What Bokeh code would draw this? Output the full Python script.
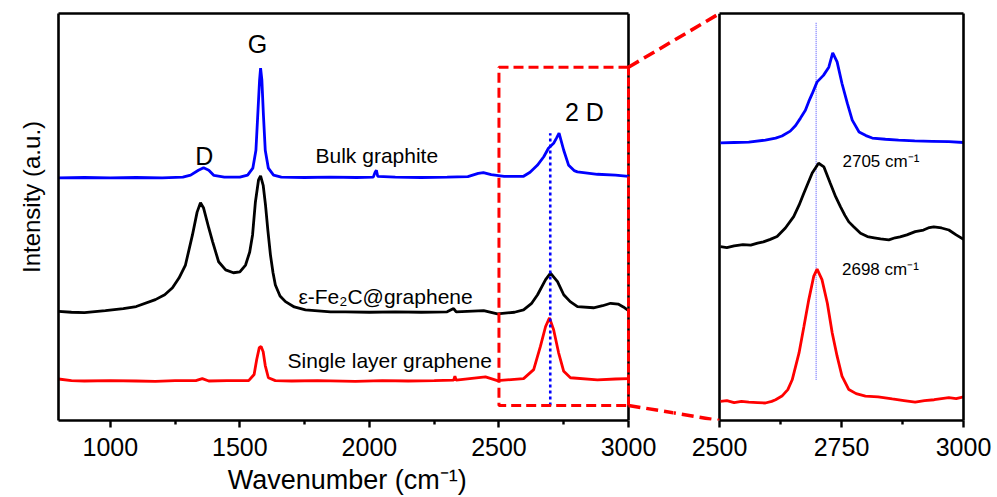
from bokeh.plotting import figure
from bokeh.layouts import row
from bokeh.models import LinearAxis, FixedTicker, Range1d
from bokeh.core.properties import value
from bokeh.embed import file_html
from bokeh.resources import INLINE

# ---------------- Raman spectra, full range (cm^-1 vs. stacked intensity, a.u.) ----------------
bulk_wn = [800, 900, 1000, 1100, 1200, 1280, 1310, 1340, 1360, 1380, 1400, 1440, 1500, 1530,
           1550, 1562, 1570, 1576, 1580, 1585, 1591, 1598, 1610, 1630, 1660, 1750, 1850, 1950,
           2015, 2022, 2027, 2032, 2100, 2200, 2300, 2380, 2420, 2440, 2470, 2520, 2595, 2620,
           2648, 2673, 2691, 2711, 2722, 2732, 2750, 2769, 2790, 2803, 2880, 2950, 3000]
bulk_int = [59.6, 59.7, 59.6, 59.7, 59.6, 59.8, 60.3, 61.5, 62.1, 61.5, 60.2, 59.8, 59.8, 60.3,
            62.0, 66.4, 76.2, 83.6, 86.6, 83.6, 75.0, 66.4, 62.0, 60.3, 59.8, 59.7, 59.8, 59.7,
            59.8, 61.0, 61.5, 60.0, 59.8, 59.7, 59.8, 59.9, 60.7, 60.9, 60.4, 60.0, 60.0, 61.0,
            62.7, 64.8, 66.9, 68.1, 69.4, 70.6, 66.4, 62.7, 61.4, 61.1, 60.5, 60.3, 60.0]

fe2c_wn = [800, 850, 900, 981, 1050, 1100, 1174, 1210, 1240, 1265, 1290, 1317, 1335, 1348,
           1360, 1380, 1395, 1418, 1445, 1475, 1500, 1522, 1538, 1549, 1560, 1572, 1580, 1590,
           1599, 1608, 1618, 1628, 1637, 1655, 1676, 1710, 1753, 1850, 1908, 2000, 2100, 2200,
           2300, 2325, 2335, 2441, 2494, 2560, 2595, 2625, 2649, 2680, 2699, 2726, 2750, 2775,
           2803, 2865, 2900, 2931, 2960, 2980, 3000]
fe2c_int = [26.8, 26.6, 26.5, 27.0, 27.5, 28.0, 29.7, 30.9, 32.6, 35.0, 38.2, 45.6, 51.2, 53.5,
            52.2, 47.3, 43.9, 39.0, 37.0, 36.3, 36.5, 38.2, 41.4, 45.6, 53.7, 59.1, 60.1, 57.8,
            52.9, 46.8, 40.7, 36.3, 33.3, 30.6, 29.2, 27.9, 27.2, 26.7, 26.7, 26.6, 26.7, 26.6,
            26.7, 27.5, 26.7, 27.0, 26.2, 26.6, 27.2, 28.7, 30.9, 34.6, 36.2, 34.1, 30.9, 29.2,
            28.0, 27.7, 28.2, 28.8, 28.6, 27.9, 27.0]

slg_wn = [800, 850, 900, 1000, 1100, 1174, 1250, 1330, 1355, 1380, 1450, 1534, 1555, 1565,
          1575, 1582, 1590, 1598, 1610, 1637, 1700, 1800, 1946, 2050, 2150, 2250, 2325, 2330,
          2335, 2448, 2494, 2595, 2634, 2660, 2680, 2695, 2711, 2730, 2750, 2776, 2880, 2950, 3000]
slg_int = [10.2, 9.8, 9.7, 9.8, 9.7, 9.6, 9.8, 9.8, 10.3, 9.7, 9.8, 9.8, 11.3, 15.0,
           17.9, 18.2, 16.9, 13.5, 10.5, 9.8, 9.7, 9.8, 9.6, 9.8, 9.7, 9.8, 9.9, 10.9,
           9.9, 10.7, 9.8, 10.3, 12.5, 18.2, 23.1, 25.2, 22.3, 16.7, 12.1, 10.5, 10.0, 10.2, 10.3]

# ---------------- 2D band, 2500-3000 cm^-1 ----------------
bulk2d_wn = [2502, 2530, 2560, 2594, 2615, 2628, 2645, 2656, 2666, 2676, 2683, 2690, 2700, 2713,
             2724, 2732, 2741, 2751, 2762, 2772, 2786, 2800, 2813, 2840, 2867, 2900, 2936, 2970,
             3000]
bulk2d_int = [68.2, 68.3, 68.4, 68.9, 69.4, 69.9, 71.1, 72.5, 74.3, 76.2, 78.4, 80.3, 83.2, 84.8,
              86.8, 90.3, 88.1, 82.8, 77.9, 73.8, 70.9, 70.0, 69.4, 69.1, 68.9, 68.7, 68.6, 68.5,
              68.3]

fe2c2d_wn = [2502, 2515, 2530, 2548, 2564, 2578, 2590, 2604, 2618, 2635, 2652, 2663, 2673, 2690,
             2703, 2714, 2727, 2738, 2748, 2757, 2765, 2775, 2789, 2803, 2817, 2830, 2847, 2860,
             2870, 2884, 2901, 2918, 2930, 2939, 2955, 2970, 2985, 3000]
fe2c2d_int = [42.7, 42.5, 42.9, 43.2, 43.1, 43.6, 43.9, 44.5, 45.2, 47.3, 50.1, 52.9, 55.9, 60.8,
              63.2, 62.3, 58.3, 55.0, 52.5, 50.4, 48.8, 47.6, 46.0, 45.2, 44.9, 44.6, 44.4, 44.9,
              45.1, 45.6, 46.4, 46.8, 47.4, 47.6, 47.3, 46.8, 45.6, 44.5]

slg2d_wn = [2502, 2515, 2530, 2545, 2560, 2578, 2594, 2607, 2615, 2628, 2640, 2649, 2663, 2673,
            2683, 2693, 2700, 2710, 2721, 2731, 2741, 2751, 2765, 2780, 2799, 2825, 2854, 2878,
            2901, 2920, 2940, 2955, 2970, 2985, 3000]
slg2d_int = [4.7, 4.9, 4.4, 4.7, 4.5, 4.4, 4.3, 4.7, 5.1, 6.0, 7.6, 10.0, 16.6, 23.1,
             29.7, 35.4, 37.2, 34.6, 28.8, 21.5, 15.8, 10.9, 7.6, 6.6, 6.0, 5.8, 5.3, 4.9,
             4.5, 4.9, 5.1, 5.4, 5.6, 5.4, 5.8]

# 2D peak positions quoted in the inset
peak_slg = 2698
peak_fe2c = 2705

# axis ticks
main_ticks = [1000, 1500, 2000, 2500, 3000]
main_minor = [1250, 1750, 2250, 2750]
zoom_ticks = [2500, 2750, 3000]
zoom_minor = [2625, 2875]

# zoom window drawn on the overview (wavenumber span and intensity span)
zoom_x = [2500, 3000]
zoom_y = [3.7, 86.8]

# ---------------- layout (pixels) ----------------
TOTAL_W, FIG_H = 997, 497
TOP, BOTTOM = 13, 76
LEFT_BORDER = 58
SPLIT = 673            # where the overview canvas ends and the inset canvas begins
MAIN_RIGHT_PX = 628    # pixel of 3000 cm^-1 on the overview
ZOOM_LEFT_PX = 719     # pixel of 2500 cm^-1 on the inset
ZOOM_RIGHT_BORDER = 34

FONT = value("Liberation Sans")
BLUE, RED, BLACK = "#0000FF", "#FF0000", "#000000"
LW = 2.8
NBSP = "\u00a0"

main_scale = (MAIN_RIGHT_PX - LEFT_BORDER) / (3000 - 800)
zoom_scale = (TOTAL_W - ZOOM_RIGHT_BORDER - ZOOM_LEFT_PX) / (3000 - 2500)
gap_px = ZOOM_LEFT_PX - MAIN_RIGHT_PX


def style_axis(ax, ticks=(), minor=(), labels=True):
    ax.ticker = FixedTicker(ticks=list(ticks), minor_ticks=list(minor))
    ax.axis_line_width = 2.6
    ax.axis_line_color = BLACK
    ax.major_tick_line_width = 2.4
    ax.minor_tick_line_width = 2.4
    ax.major_tick_in = 0
    ax.minor_tick_in = 0
    ax.major_tick_out = 7
    ax.minor_tick_out = 4
    ax.major_label_text_font = "Liberation Sans"
    ax.major_label_text_font_size = "25px" if labels else "0px"
    ax.major_label_text_color = BLACK
    ax.major_label_standoff = 10
    ax.axis_label_text_font = "Liberation Sans"
    ax.axis_label_text_font_style = "normal"
    ax.axis_label_text_color = BLACK


# ================= overview panel =================
p = figure(width=SPLIT, height=FIG_H, output_backend="svg", toolbar_location=None,
           x_range=Range1d(800, 3000 + (SPLIT - MAIN_RIGHT_PX) / main_scale),
           y_range=Range1d(0, 100),
           min_border_left=LEFT_BORDER, min_border_right=0,
           min_border_top=TOP, min_border_bottom=BOTTOM)
p.outline_line_color = None
p.grid.visible = False
p.background_fill_color = "white"
p.border_fill_color = "white"

xa = p.xaxis[0]
style_axis(xa, main_ticks, main_minor)
xa.bounds = (800, 3000)
xa.axis_label = "Wavenumber (cm\u207b\u00b9)" + NBSP * 5
xa.axis_label_text_font_size = "27px"
xa.axis_label_standoff = 6

ya = p.yaxis[0]
style_axis(ya, labels=False)
ya.major_tick_out = 0
ya.minor_tick_out = 0
ya.axis_label = NBSP * 6 + "Intensity (a.u.)"
ya.axis_label_text_font_size = "24px"
ya.axis_label_standoff = 14

top_axis = LinearAxis()
style_axis(top_axis, labels=False)
top_axis.major_tick_out = 0
top_axis.minor_tick_out = 0
top_axis.bounds = (800, 3000)
p.add_layout(top_axis, "above")

# right edge of the overview box
p.line([3000, 3000], [0, 100], line_color=BLACK, line_width=2.6)

p.line(bulk_wn, bulk_int, line_color=BLUE, line_width=LW)
p.line(fe2c_wn, fe2c_int, line_color=BLACK, line_width=LW)
p.line(slg_wn, slg_int, line_color=RED, line_width=LW)

# 2D position marker
p.line([peak_slg, peak_slg], [zoom_y[0], max(bulk_int[-10:])], line_color=BLUE,
       line_width=2.6, line_dash="3 3")

# zoom window
p.line([zoom_x[1], zoom_x[0], zoom_x[0], zoom_x[1]],
       [zoom_y[1], zoom_y[1], zoom_y[0], zoom_y[0]],
       line_color=RED, line_width=3, line_dash="10 5")
p.line([zoom_x[1], zoom_x[1]], [zoom_y[0], zoom_y[1]], line_color=RED, line_width=3,
       line_dash="9 2")

# leader lines towards the inset (same vertical scale on both canvases)
x_far = 3000 + gap_px / main_scale
p.line([3000, x_far], [zoom_y[1], 100], line_color=RED, line_width=3.5, line_dash="12 6")
p.line([3000, x_far], [zoom_y[0], 0], line_color=RED, line_width=3.5, line_dash="12 6")

# band names
p.text(x=[1568, 1363, 2830], y=[92.5, 64.9, 75.8], text=["G", "D", "2 D"],
       text_font=FONT, text_font_size=value("25px"), text_align="center",
       text_baseline="alphabetic", text_color=BLACK)
# sample names
p.text(x=[1792, 1726, 1684], y=[65.1, 30.4, 14.8],
       text=["Bulk graphite", "\u03b5-Fe\u2082C@graphene", "Single layer graphene"],
       text_font=FONT, text_font_size=value("21px"), text_align="left",
       text_baseline="alphabetic", text_color=BLACK)

# ================= inset: 2D band =================
q = figure(width=TOTAL_W - SPLIT, height=FIG_H, output_backend="svg", toolbar_location=None,
           x_range=Range1d(2500 - (ZOOM_LEFT_PX - SPLIT) / zoom_scale, 3000),
           y_range=Range1d(0, 100), y_axis_location=None,
           min_border_left=0, min_border_right=ZOOM_RIGHT_BORDER,
           min_border_top=TOP, min_border_bottom=BOTTOM)
q.outline_line_color = None
q.grid.visible = False
q.background_fill_color = "white"
q.border_fill_color = "white"

qa = q.xaxis[0]
style_axis(qa, zoom_ticks, zoom_minor)
qa.bounds = (2500, 3000)

q_top = LinearAxis()
style_axis(q_top, labels=False)
q_top.major_tick_out = 0
q_top.minor_tick_out = 0
q_top.bounds = (2500, 3000)
q.add_layout(q_top, "above")

q_right = LinearAxis()
style_axis(q_right, labels=False)
q_right.major_tick_out = 0
q_right.minor_tick_out = 0
q.add_layout(q_right, "right")

q.line([2500, 2500], [0, 100], line_color=BLACK, line_width=2.6)

q.line([peak_slg, peak_slg], [10.0, 97.8], line_color="#4A4AFF", line_width=1,
       line_dash="1 1")

q.line(bulk2d_wn, bulk2d_int, line_color=BLUE, line_width=LW)
q.line(fe2c2d_wn, fe2c2d_int, line_color=BLACK, line_width=LW)
q.line(slg2d_wn, slg2d_int, line_color=RED, line_width=LW)

x_near = 2500 - gap_px / zoom_scale
q.line([x_near, 2500], [zoom_y[1], 100], line_color=RED, line_width=3.5, line_dash="12 6")
q.line([x_near, 2500], [zoom_y[0], 0], line_color=RED, line_width=3.5, line_dash="12 6")

q.text(x=[2752, 2751], y=[63.7, 37.0],
       text=[f"{peak_fe2c} cm\u207b\u00b9", f"{peak_slg} cm\u207b\u00b9"],
       text_font=FONT, text_font_size=value("17px"), text_align="left",
       text_baseline="alphabetic", text_color=BLACK)

layout = row(p, q)
open("out.html", "w").write(file_html(layout, INLINE))
